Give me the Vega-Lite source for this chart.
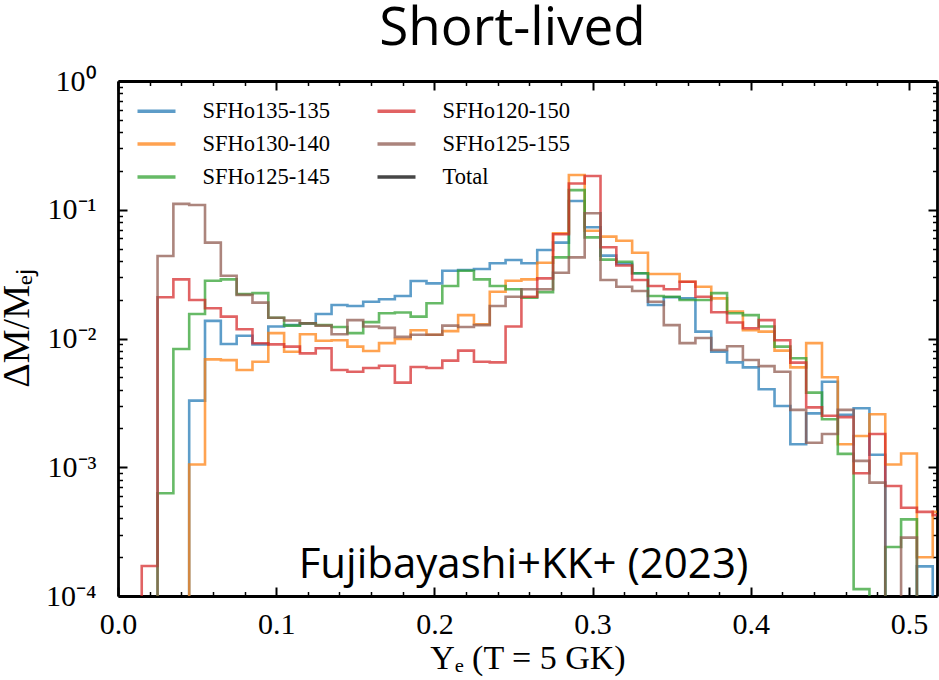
{
  "$schema": "https://vega.github.io/schema/vega-lite/v6.json",
  "width": 819,
  "height": 515,
  "autosize": {"type": "none"},
  "padding": {"left": 118, "top": 81, "right": 2, "bottom": 84},
  "background": "white",
  "title": {
    "text": "Short-lived",
    "font": "Open Sans",
    "fontSize": 53,
    "fontWeight": "normal",
    "color": "black",
    "anchor": "middle",
    "baseline": "alphabetic",
    "offset": 34,
    "dx": -15,
    "dy": 66
  },
  "config": {
    "view": {"stroke": null},
    "axis": {
      "grid": false,
      "domainColor": "black",
      "tickColor": "black",
      "labelColor": "black",
      "titleColor": "black",
      "labelFont": "Liberation Serif",
      "titleFont": "Liberation Serif",
      "labelFontSize": 30,
      "titleFontSize": 30,
      "titleFontWeight": "normal",
      "labelFlush": false,
      "labelOverlap": false
    }
  },
  "datasets": {
    "hist": [
      {"ye": 0.01, "SFHo135-135": 1e-7, "SFHo130-140": 1e-7, "SFHo125-145": 1e-7, "SFHo120-150": 1e-7, "SFHo125-155": 1e-7},
      {"ye": 0.02, "SFHo135-135": 1e-7, "SFHo130-140": 1e-7, "SFHo125-145": 1e-7, "SFHo120-150": 0.000171, "SFHo125-155": 1e-7},
      {"ye": 0.03, "SFHo135-135": 1e-7, "SFHo130-140": 1e-7, "SFHo125-145": 0.000628, "SFHo120-150": 0.0209, "SFHo125-155": 0.0437},
      {"ye": 0.04, "SFHo135-135": 1e-7, "SFHo130-140": 1e-7, "SFHo125-145": 0.00828, "SFHo120-150": 0.0288, "SFHo125-155": 0.111},
      {"ye": 0.05, "SFHo135-135": 0.00329, "SFHo130-140": 0.00105, "SFHo125-145": 0.0155, "SFHo120-150": 0.0199, "SFHo125-155": 0.109},
      {"ye": 0.06, "SFHo135-135": 0.0137, "SFHo130-140": 0.00689, "SFHo125-145": 0.0281, "SFHo120-150": 0.0172, "SFHo125-155": 0.0555},
      {"ye": 0.07, "SFHo135-135": 0.00906, "SFHo130-140": 0.00679, "SFHo125-145": 0.0288, "SFHo120-150": 0.0148, "SFHo125-155": 0.0307},
      {"ye": 0.08, "SFHo135-135": 0.0105, "SFHo130-140": 0.00569, "SFHo125-145": 0.0221, "SFHo120-150": 0.0118, "SFHo125-155": 0.0218},
      {"ye": 0.09, "SFHo135-135": 0.009, "SFHo130-140": 0.0066, "SFHo125-145": 0.0225, "SFHo120-150": 0.00918, "SFHo125-155": 0.019},
      {"ye": 0.10, "SFHo135-135": 0.0124, "SFHo130-140": 0.011, "SFHo125-145": 0.0145, "SFHo120-150": 0.009, "SFHo125-155": 0.0145},
      {"ye": 0.11, "SFHo135-135": 0.0127, "SFHo130-140": 0.0079, "SFHo125-145": 0.0126, "SFHo120-150": 0.00864, "SFHo125-155": 0.0138},
      {"ye": 0.12, "SFHo135-135": 0.0131, "SFHo130-140": 0.0108, "SFHo125-145": 0.0131, "SFHo120-150": 0.00767, "SFHo125-155": 0.0131},
      {"ye": 0.13, "SFHo135-135": 0.0155, "SFHo130-140": 0.0096, "SFHo125-145": 0.0127, "SFHo120-150": 0.0084, "SFHo125-155": 0.0126},
      {"ye": 0.14, "SFHo135-135": 0.0182, "SFHo130-140": 0.0097, "SFHo125-145": 0.0123, "SFHo120-150": 0.0057, "SFHo125-155": 0.0108},
      {"ye": 0.15, "SFHo135-135": 0.0179, "SFHo130-140": 0.00864, "SFHo125-145": 0.011, "SFHo120-150": 0.00552, "SFHo125-155": 0.0139},
      {"ye": 0.16, "SFHo135-135": 0.0193, "SFHo130-140": 0.008, "SFHo125-145": 0.0134, "SFHo120-150": 0.0059, "SFHo125-155": 0.0124},
      {"ye": 0.17, "SFHo135-135": 0.0202, "SFHo130-140": 0.0092, "SFHo125-145": 0.0157, "SFHo120-150": 0.00615, "SFHo125-155": 0.0121},
      {"ye": 0.18, "SFHo135-135": 0.0214, "SFHo130-140": 0.0099, "SFHo125-145": 0.0159, "SFHo120-150": 0.00454, "SFHo125-155": 0.0103},
      {"ye": 0.19, "SFHo135-135": 0.028, "SFHo130-140": 0.0116, "SFHo125-145": 0.0148, "SFHo120-150": 0.006, "SFHo125-155": 0.0107},
      {"ye": 0.20, "SFHo135-135": 0.0268, "SFHo130-140": 0.0107, "SFHo125-145": 0.0188, "SFHo120-150": 0.0059, "SFHo125-155": 0.0107},
      {"ye": 0.21, "SFHo135-135": 0.0336, "SFHo130-140": 0.0114, "SFHo125-145": 0.0256, "SFHo120-150": 0.00673, "SFHo125-155": 0.0126},
      {"ye": 0.22, "SFHo135-135": 0.034, "SFHo130-140": 0.0152, "SFHo125-145": 0.0336, "SFHo120-150": 0.00805, "SFHo125-155": 0.0123},
      {"ye": 0.23, "SFHo135-135": 0.0347, "SFHo130-140": 0.0129, "SFHo125-145": 0.0288, "SFHo120-150": 0.0066, "SFHo125-155": 0.0127},
      {"ye": 0.24, "SFHo135-135": 0.0384, "SFHo130-140": 0.0231, "SFHo125-145": 0.0256, "SFHo120-150": 0.00653, "SFHo125-155": 0.0179},
      {"ye": 0.25, "SFHo135-135": 0.0407, "SFHo130-140": 0.0281, "SFHo125-145": 0.0241, "SFHo120-150": 0.0124, "SFHo125-155": 0.0211},
      {"ye": 0.26, "SFHo135-135": 0.0384, "SFHo130-140": 0.0288, "SFHo125-145": 0.0207, "SFHo120-150": 0.0211, "SFHo125-155": 0.0241},
      {"ye": 0.27, "SFHo135-135": 0.0487, "SFHo130-140": 0.0388, "SFHo125-145": 0.0229, "SFHo120-150": 0.0293, "SFHo125-155": 0.0241},
      {"ye": 0.28, "SFHo135-135": 0.0555, "SFHo130-140": 0.0656, "SFHo125-145": 0.0427, "SFHo120-150": 0.0645, "SFHo125-155": 0.0324},
      {"ye": 0.29, "SFHo135-135": 0.117, "SFHo130-140": 0.186, "SFHo125-145": 0.142, "SFHo120-150": 0.16, "SFHo125-155": 0.0427},
      {"ye": 0.30, "SFHo135-135": 0.0731, "SFHo130-140": 0.0687, "SFHo125-145": 0.061, "SFHo120-150": 0.183, "SFHo125-155": 0.094},
      {"ye": 0.31, "SFHo135-135": 0.044, "SFHo130-140": 0.0618, "SFHo125-145": 0.041, "SFHo120-150": 0.0512, "SFHo125-155": 0.0285},
      {"ye": 0.32, "SFHo135-135": 0.038, "SFHo130-140": 0.0575, "SFHo125-145": 0.0395, "SFHo120-150": 0.0369, "SFHo125-155": 0.0252},
      {"ye": 0.33, "SFHo135-135": 0.0321, "SFHo130-140": 0.0464, "SFHo125-145": 0.0321, "SFHo120-150": 0.0285, "SFHo125-155": 0.0234},
      {"ye": 0.34, "SFHo135-135": 0.0182, "SFHo130-140": 0.0317, "SFHo125-145": 0.0214, "SFHo120-150": 0.0256, "SFHo125-155": 0.0193},
      {"ye": 0.35, "SFHo135-135": 0.0209, "SFHo130-140": 0.0317, "SFHo125-145": 0.0211, "SFHo120-150": 0.0241, "SFHo125-155": 0.0127},
      {"ye": 0.36, "SFHo135-135": 0.0205, "SFHo130-140": 0.0276, "SFHo125-145": 0.0199, "SFHo120-150": 0.0276, "SFHo125-155": 0.0092},
      {"ye": 0.37, "SFHo135-135": 0.0113, "SFHo130-140": 0.0252, "SFHo125-145": 0.0199, "SFHo120-150": 0.0211, "SFHo125-155": 0.0101},
      {"ye": 0.38, "SFHo135-135": 0.0079, "SFHo130-140": 0.0205, "SFHo125-145": 0.0225, "SFHo120-150": 0.016, "SFHo125-155": 0.00814},
      {"ye": 0.39, "SFHo135-135": 0.00653, "SFHo130-140": 0.0162, "SFHo125-145": 0.0157, "SFHo120-150": 0.0133, "SFHo125-155": 0.0087},
      {"ye": 0.40, "SFHo135-135": 0.00597, "SFHo130-140": 0.0116, "SFHo125-145": 0.0152, "SFHo120-150": 0.012, "SFHo125-155": 0.0068},
      {"ye": 0.41, "SFHo135-135": 0.00403, "SFHo130-140": 0.0113, "SFHo125-145": 0.0124, "SFHo120-150": 0.0139, "SFHo125-155": 0.0061},
      {"ye": 0.42, "SFHo135-135": 0.00299, "SFHo130-140": 0.00805, "SFHo125-145": 0.00864, "SFHo120-150": 0.0097, "SFHo125-155": 0.00552},
      {"ye": 0.43, "SFHo135-135": 0.00151, "SFHo130-140": 0.00597, "SFHo125-145": 0.00702, "SFHo120-150": 0.0065, "SFHo125-155": 0.00279},
      {"ye": 0.44, "SFHo135-135": 0.00262, "SFHo130-140": 0.0092, "SFHo125-145": 0.0038, "SFHo120-150": 0.00292, "SFHo125-155": 0.00155},
      {"ye": 0.45, "SFHo135-135": 0.00462, "SFHo130-140": 0.005, "SFHo125-145": 0.00236, "SFHo120-150": 0.00251, "SFHo125-155": 0.00181},
      {"ye": 0.46, "SFHo135-135": 0.00255, "SFHo130-140": 0.00151, "SFHo125-145": 0.00127, "SFHo120-150": 0.00245, "SFHo125-155": 0.00279},
      {"ye": 0.47, "SFHo135-135": 0.00287, "SFHo130-140": 0.00175, "SFHo125-145": 0.000113, "SFHo120-150": 0.000898, "SFHo125-155": 0.00112},
      {"ye": 0.48, "SFHo135-135": 0.00125, "SFHo130-140": 0.00258, "SFHo125-145": 1e-7, "SFHo120-150": 0.00181, "SFHo125-155": 0.00076},
      {"ye": 0.49, "SFHo135-135": 1e-7, "SFHo130-140": 0.00105, "SFHo125-145": 0.00024, "SFHo120-150": 0.000715, "SFHo125-155": 1e-7},
      {"ye": 0.50, "SFHo135-135": 1e-7, "SFHo130-140": 0.00128, "SFHo125-145": 0.000394, "SFHo120-150": 0.000485, "SFHo125-155": 0.000284},
      {"ye": 0.51, "SFHo135-135": 0.00017, "SFHo130-140": 0.0002, "SFHo125-145": 1e-7, "SFHo120-150": 0.00045, "SFHo125-155": 1e-7},
      {"ye": 0.52, "SFHo135-135": 1e-7, "SFHo130-140": 0.00045, "SFHo125-145": 1e-7, "SFHo120-150": 0.000425, "SFHo125-155": 1e-7}
    ],
    "note": [
      {"ye": 0.2563, "frac": 0.000138, "label": "Fujibayashi+KK+ (2023)"}
    ]
  },
  "layer": [
    {
      "data": {"name": "hist"},
      "transform": [
        {"fold": ["SFHo135-135", "SFHo130-140", "SFHo125-145", "SFHo120-150", "SFHo125-155"], "as": ["model", "frac"]}
      ],
      "mark": {"type": "line", "interpolate": "step", "clip": true, "strokeWidth": 2.6, "opacity": 0.72},
      "encoding": {
        "x": {
          "field": "ye",
          "type": "quantitative",
          "scale": {"domain": [0, 0.5177], "nice": false, "zero": false},
          "axis": {
            "orient": "bottom",
            "values": [0, 0.1, 0.2, 0.3, 0.4, 0.5],
            "format": ".1f",
            "tickSize": -9,
            "tickWidth": 2,
            "domainWidth": 2.8,
            "labelPadding": 22,
            "title": "Yₑ (T = 5 GK)",
            "titleFontSize": 34,
            "titlePadding": 2
          }
        },
        "y": {
          "field": "frac",
          "type": "quantitative",
          "scale": {"type": "log", "domain": [0.0001, 1], "nice": false},
          "axis": {
            "orient": "left",
            "values": [0.0001, 0.001, 0.01, 0.1, 1],
            "labelExpr": "datum.value > 0.5 ? '10⁰' : datum.value > 0.05 ? '10⁻¹' : datum.value > 0.005 ? '10⁻²' : datum.value > 0.0005 ? '10⁻³' : '10⁻⁴'",
            "tickSize": -9,
            "tickWidth": 2,
            "domainWidth": 2.8,
            "labelPadding": 31,
            "title": "ΔM/Mₑⱼ",
            "titleFontSize": 38,
            "titleAngle": -90,
            "titleAlign": "center",
            "titleBaseline": "bottom",
            "titleX": -82,
            "titleY": 247
          }
        },
        "color": {
          "field": "model",
          "type": "nominal",
          "scale": {
            "domain": ["SFHo135-135", "SFHo130-140", "SFHo125-145", "SFHo120-150", "SFHo125-155", "Total"],
            "range": ["#1f77b4", "#ff7f0e", "#2ca02c", "#d62728", "#8c564b", "#000000"]
          },
          "legend": {
            "title": null,
            "orient": "none",
            "legendX": 17.5,
            "legendY": 9,
            "columns": 2,
            "direction": "vertical",
            "symbolType": "stroke",
            "symbolSize": 1444,
            "symbolStrokeWidth": 3.5,
            "symbolOpacity": 0.72,
            "labelFont": "Liberation Serif",
            "labelFontSize": 22.5,
            "labelColor": "black",
            "labelOffset": 25,
            "columnPadding": 40,
            "rowPadding": 0,
            "padding": 0
          }
        }
      }
    },
    {
      "data": {"name": "note"},
      "mark": {"type": "text", "font": "Open Sans", "fontSize": 42, "align": "center", "baseline": "alphabetic", "color": "black"},
      "encoding": {
        "x": {
          "field": "ye",
          "type": "quantitative",
          "scale": {"domain": [0, 0.5177], "nice": false, "zero": false},
          "axis": {"orient": "top", "values": [0, 0.1, 0.2, 0.3, 0.4, 0.5], "labels": false, "title": null, "tickSize": -9, "tickWidth": 2, "domainWidth": 2.8}
        },
        "y": {
          "field": "frac",
          "type": "quantitative",
          "scale": {"type": "log", "domain": [0.0001, 1], "nice": false},
          "axis": {"orient": "right", "values": [0.0001, 0.001, 0.01, 0.1, 1], "labels": false, "title": null, "tickSize": -9, "tickWidth": 2, "domainWidth": 2.8}
        },
        "text": {"field": "label"}
      }
    },
    {
      "data": {"name": "note"},
      "mark": {"type": "point", "opacity": 0},
      "encoding": {
        "x": {
          "field": "ye",
          "type": "quantitative",
          "scale": {"domain": [0, 0.5177], "nice": false, "zero": false},
          "axis": {"orient": "bottom", "values": [0.02, 0.04, 0.06, 0.08, 0.12, 0.14, 0.16, 0.18, 0.22, 0.24, 0.26, 0.28, 0.32, 0.34, 0.36, 0.38, 0.42, 0.44, 0.46, 0.48], "labels": false, "title": null, "domain": false, "tickSize": -4.5, "tickWidth": 1.5}
        },
        "y": {
          "field": "frac",
          "type": "quantitative",
          "scale": {"type": "log", "domain": [0.0001, 1], "nice": false},
          "axis": {"orient": "left", "values": [0.0002, 0.0003, 0.0004, 0.0005, 0.0006, 0.0007, 0.0008, 0.0009, 0.002, 0.003, 0.004, 0.005, 0.006, 0.007, 0.008, 0.009, 0.02, 0.03, 0.04, 0.05, 0.06, 0.07, 0.08, 0.09, 0.2, 0.3, 0.4, 0.5, 0.6, 0.7, 0.8, 0.9], "labels": false, "title": null, "domain": false, "tickSize": -4.5, "tickWidth": 1.5}
        }
      }
    },
    {
      "data": {"name": "note"},
      "mark": {"type": "point", "opacity": 0},
      "encoding": {
        "x": {
          "field": "ye",
          "type": "quantitative",
          "scale": {"domain": [0, 0.5177], "nice": false, "zero": false},
          "axis": {"orient": "top", "values": [0.02, 0.04, 0.06, 0.08, 0.12, 0.14, 0.16, 0.18, 0.22, 0.24, 0.26, 0.28, 0.32, 0.34, 0.36, 0.38, 0.42, 0.44, 0.46, 0.48], "labels": false, "title": null, "domain": false, "tickSize": -4.5, "tickWidth": 1.5}
        },
        "y": {
          "field": "frac",
          "type": "quantitative",
          "scale": {"type": "log", "domain": [0.0001, 1], "nice": false},
          "axis": {"orient": "right", "values": [0.0002, 0.0003, 0.0004, 0.0005, 0.0006, 0.0007, 0.0008, 0.0009, 0.002, 0.003, 0.004, 0.005, 0.006, 0.007, 0.008, 0.009, 0.02, 0.03, 0.04, 0.05, 0.06, 0.07, 0.08, 0.09, 0.2, 0.3, 0.4, 0.5, 0.6, 0.7, 0.8, 0.9], "labels": false, "title": null, "domain": false, "tickSize": -4.5, "tickWidth": 1.5}
        }
      }
    }
  ],
  "resolve": {"axis": {"x": "independent", "y": "independent"}}
}
